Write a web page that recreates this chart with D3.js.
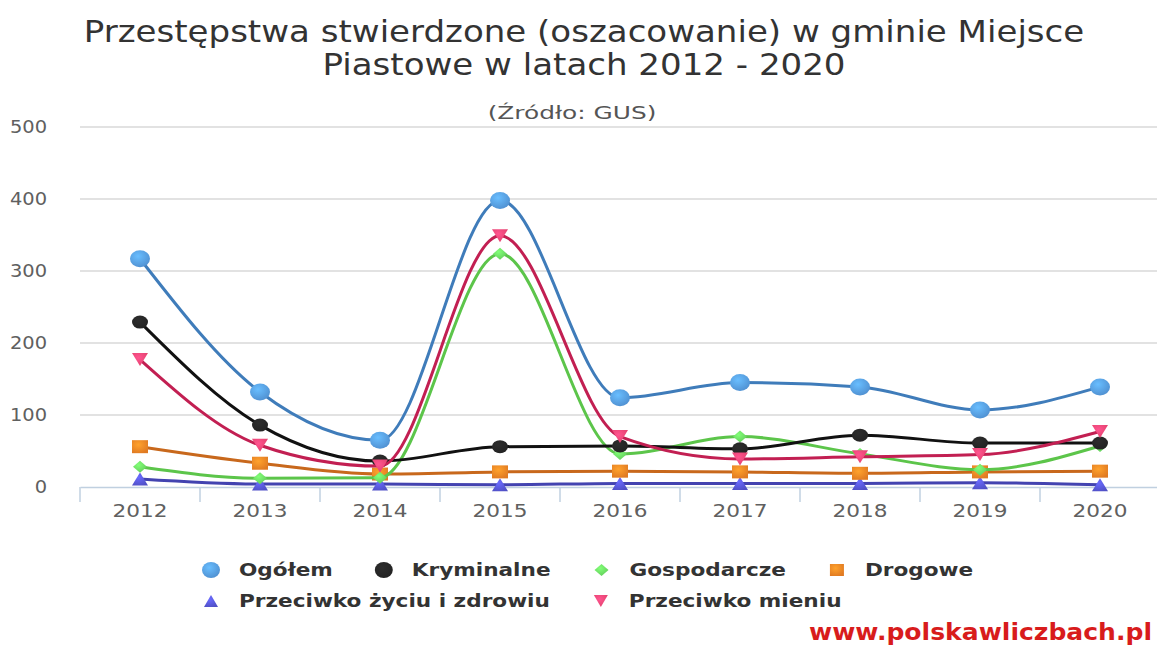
<!DOCTYPE html>
<html lang="pl">
<head>
<meta charset="UTF-8">
<title>Przestępstwa stwierdzone - Miejsce Piastowe</title>
<style>
  html, body { margin: 0; padding: 0; background: #fff; }
  svg { display: block; }
</style>
</head>
<body>
<script src="https://d3js.org/d3.v7.min.js"></script>
<script>
  // data
  const years = ['2012', '2013', '2014', '2015', '2016', '2017', '2018', '2019', '2020'];
  const yTicks = [0, 100, 200, 300, 400, 500];

  const ogolem = [317, 132, 65, 398, 124, 145, 139, 107, 139];
  const kryminalne = [229, 86, 36, 56, 57, 53, 72, 61, 61];
  const gospodarcze = [28, 12, 13, 324, 46, 70, 46, 24, 57];
  const drogowe = [56, 33, 18, 21, 22, 21, 19, 21, 22];
  const zycieZdrowie = [11, 4, 4, 3, 5, 5, 5, 6, 3];
  const mienie = [177, 58, 29, 349, 70, 39, 42, 45, 77];

  const seriesNames = ['Ogółem', 'Kryminalne', 'Gospodarcze', 'Drogowe',
    'Przeciwko życiu i zdrowiu', 'Przeciwko mieniu'];

  const W = 1157, H = 645;
  const margin = { top: 127, right: 0, bottom: 158, left: 80 };
  const plotRight = 1160;

  const series = [
    { name: seriesNames[0], values: ogolem, line: '#3f7cba', fill: '#4f8fd0', sym: 'ellipse', rx: 10, ry: 8.5 },
    { name: seriesNames[1], values: kryminalne, line: '#111111', fill: '#222222', sym: 'ellipse', rx: 8, ry: 6.5 },
    { name: seriesNames[2], values: gospodarcze, line: '#5cc54a', fill: '#62cc5a', sym: 'diamond', rx: 7, ry: 6 },
    { name: seriesNames[3], values: drogowe, line: '#c8681c', fill: '#e07a22', sym: 'square', rx: 8, ry: 6.5 },
    { name: seriesNames[4], values: zycieZdrowie, line: '#4343b0', fill: '#5050c6', sym: 'triangle', rx: 8, ry: 6.5 },
    { name: seriesNames[5], values: mienie, line: '#c21f52', fill: '#e2406c', sym: 'triangle-down', rx: 8, ry: 6.5 }
  ];

  const svg = d3.select('body').append('svg')
    .attr('width', W)
    .attr('height', H);

  // the source picture is stretched sideways, so text is widened a little
  function wideText(parent, x, y, str, font, color, stretch, anchor) {
    const t = parent.append('g')
      .attr('transform', `translate(${x},${y}) scale(${stretch},1)`)
      .append('text')
      .attr('text-anchor', anchor || 'start')
      .style('font', font)
      .style('fill', color)
      .text(str);
    return t;
  }

  // marker gradients
  const defs = svg.append('defs');
  series.forEach((s, i) => {
    const g = defs.append('radialGradient')
      .attr('id', 'grad' + i)
      .attr('cx', '40%').attr('cy', '35%').attr('r', '70%');
    g.append('stop').attr('offset', '0%').attr('stop-color', d3.color(s.fill).brighter(0.8));
    g.append('stop').attr('offset', '100%').attr('stop-color', s.fill);
  });

  const x = d3.scaleBand()
    .domain(years)
    .range([margin.left, plotRight]);

  const y = d3.scaleLinear()
    .domain([0, 500])
    .range([H - margin.bottom, margin.top]);

  const cx = d => x(d) + x.bandwidth() / 2;

  // title
  const titleFont = '30px "DejaVu Sans", sans-serif';
  wideText(svg, 584, 42, 'Przestępstwa stwierdzone (oszacowanie) w gminie Miejsce', titleFont, '#333', 1.135, 'middle');
  wideText(svg, 584, 75, 'Piastowe w latach 2012 - 2020', titleFont, '#333', 1.135, 'middle');
  wideText(svg, 572, 119, '(Źródło: GUS)', '18px "DejaVu Sans", sans-serif', '#555', 1.38, 'middle');

  // grid
  svg.append('g')
    .selectAll('line')
    .data(yTicks.filter(d => d > 0))
    .join('line')
    .attr('x1', margin.left).attr('x2', plotRight)
    .attr('y1', d => y(d)).attr('y2', d => y(d))
    .attr('stroke', '#d8d8d8')
    .attr('stroke-width', 1.5);

  // y labels
  const yLab = svg.append('g');
  yTicks.forEach(d => {
    wideText(yLab, 47, y(d) + 6, d, '18px "DejaVu Sans", sans-serif', '#606060', 1.08, 'end');
  });

  // x axis
  const xAxis = svg.append('g')
    .attr('transform', `translate(0,${y(0)})`)
    .call(d3.axisBottom(x).tickSize(0).tickFormat(''));
  xAxis.select('.domain').attr('stroke', '#c0d0e0').attr('stroke-width', 1.5);
  xAxis.selectAll('.tick').each(function (d) {
    wideText(d3.select(this), 0, 30, d, '18px "DejaVu Sans", sans-serif', '#606060', 1.2, 'middle');
  });
  xAxis.selectAll('.edge')
    .data(years.map(d => x(d)).concat([plotRight]))
    .join('line')
    .attr('class', 'edge')
    .attr('x1', d => d).attr('x2', d => d)
    .attr('y1', 0).attr('y2', 15)
    .attr('stroke', '#c0d0e0')
    .attr('stroke-width', 1.5);

  // symbols
  function drawSymbol(sel, s, i) {
    const f = `url(#grad${i})`;
    const rx = s.rx, ry = s.ry;
    if (s.sym === 'ellipse') {
      sel.append('ellipse').attr('rx', rx).attr('ry', ry).attr('fill', f);
    } else if (s.sym === 'square') {
      sel.append('rect').attr('x', -rx).attr('y', -ry).attr('width', 2 * rx).attr('height', 2 * ry).attr('fill', f);
    } else if (s.sym === 'diamond') {
      sel.append('path').attr('d', `M0,${-ry}L${rx},0L0,${ry}L${-rx},0Z`).attr('fill', f);
    } else if (s.sym === 'triangle') {
      sel.append('path').attr('d', `M0,${-ry}L${rx},${ry}L${-rx},${ry}Z`).attr('fill', f);
    } else {
      sel.append('path').attr('d', `M${-rx},${-ry}L${rx},${-ry}L0,${ry}Z`).attr('fill', f);
    }
  }

  const line = d3.line()
    .x((d, i) => cx(years[i]))
    .y(d => y(d))
    .curve(d3.curveMonotoneX);

  // draw lower-priority series first so Ogółem sits on top like the original
  const order = [4, 3, 2, 1, 5, 0];
  order.forEach(i => {
    const s = series[i];
    const g = svg.append('g');
    g.append('path')
      .datum(s.values)
      .attr('d', line)
      .attr('fill', 'none')
      .attr('stroke', s.line)
      .attr('stroke-width', 3);
    g.selectAll('g.pt')
      .data(s.values)
      .join('g')
      .attr('class', 'pt')
      .attr('transform', (d, j) => `translate(${cx(years[j])},${y(d)})`)
      .each(function () { drawSymbol(d3.select(this), s, i); });
  });

  // legend
  const legendLeft = 202, legendRight = 1000;
  const rowY = [570, 601];
  const legStretch = 1.2;
  let lx = legendLeft, row = 0;
  series.forEach((s, i) => {
    const item = svg.append('g');
    const t = wideText(item, 37, 6, s.name, 'bold 18px "DejaVu Sans", sans-serif', '#333', legStretch);
    const tw = t.node().getComputedTextLength() * legStretch;
    const itemW = 37 + tw;
    if (lx + itemW > legendRight) { row++; lx = legendLeft; }
    item.attr('transform', `translate(${lx},${rowY[row]})`);
    const sym = item.append('g').attr('transform', 'translate(9,0)');
    drawSymbol(sym, { ...s, rx: s.sym === 'ellipse' ? 9 : 7, ry: s.sym === 'ellipse' ? 8 : 6 }, i);
    lx += itemW + 42;
  });

  // watermark
  wideText(svg, 1152, 640, 'www.polskawliczbach.pl', 'bold 23px "DejaVu Sans", sans-serif', '#d81c1c', 1.09, 'end');
</script>
</body>
</html>
